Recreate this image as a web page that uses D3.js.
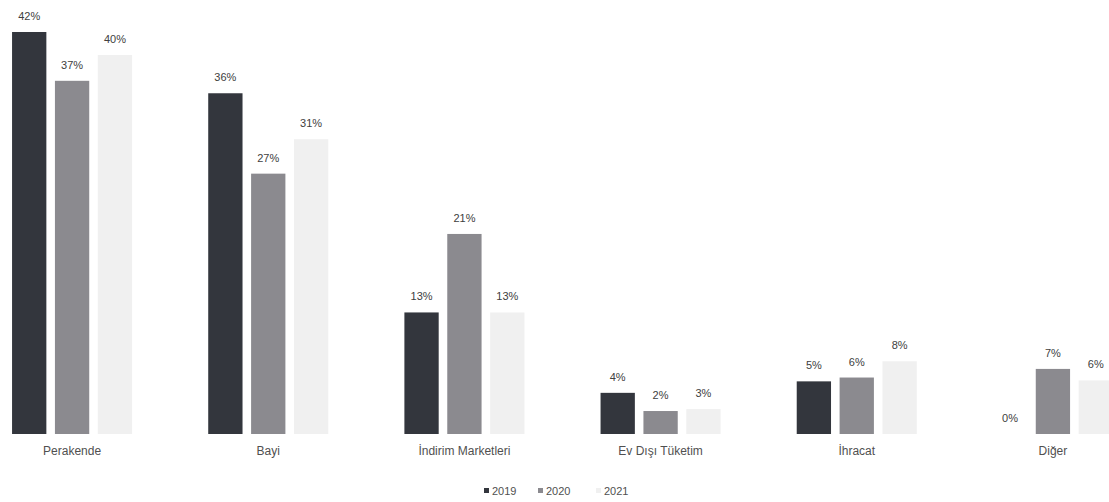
<!DOCTYPE html>
<html>
<head>
<meta charset="utf-8">
<script src="https://cdn.jsdelivr.net/npm/d3@7"></script>
<style>
  html, body { margin: 0; padding: 0; background: #fff; }
  svg { display: block; }
</style>
</head>
<body>
<svg id="chart" width="1109" height="502"></svg>
<script>
const categories = ["Perakende", "Bayi", "İndirim Marketleri", "Ev Dışı Tüketim", "İhracat", "Diğer"];
const seriesNames = ["2019", "2020", "2021"];
const values2019 = [42, 35.6, 12.7, 4.3, 5.5, 0];
const values2020 = [36.9, 27.2, 20.9, 2.4, 5.9, 6.8];
const values2021 = [39.6, 30.8, 12.7, 2.6, 7.6, 5.6];
const labels2019 = ["42%", "36%", "13%", "4%", "5%", "0%"];
const labels2020 = ["37%", "27%", "21%", "2%", "6%", "7%"];
const labels2021 = ["40%", "31%", "13%", "3%", "8%", "6%"];
const colors = ["#33363d", "#8b8a8f", "#f0f0f0"];

const svg = d3.select("#chart");

const seriesVals = [values2019, values2020, values2021];
const seriesLbls = [labels2019, labels2020, labels2021];

const x0 = d3.scaleBand().domain(categories).range([-26, 1151]).paddingInner(0.388).paddingOuter(0.194);
const x1 = d3.scaleBand().domain(seriesNames).range([0, x0.bandwidth()]).paddingInner(0.2).paddingOuter(0);
const y = d3.scaleLinear().domain([0, 42]).range([434, 32]);
const color = d3.scaleOrdinal().domain(seriesNames).range(colors);

const rows = categories.map((c, i) => ({
  cat: c,
  items: seriesNames.map((s, j) => ({ s, v: seriesVals[j][i], l: seriesLbls[j][i] }))
}));

const g = svg.append("g");
const groups = g.selectAll("g.grp").data(rows).join("g")
  .attr("class", "grp")
  .attr("transform", d => `translate(${x0(d.cat)},0)`);

groups.selectAll("rect").data(d => d.items).join("rect")
  .attr("x", d => x1(d.s))
  .attr("y", d => y(d.v))
  .attr("width", x1.bandwidth())
  .attr("height", d => y(0) - y(d.v))
  .attr("fill", d => color(d.s));

groups.selectAll("text.val").data(d => d.items).join("text")
  .attr("class", "val")
  .attr("x", d => x1(d.s) + x1.bandwidth() / 2)
  .attr("y", d => y(d.v) - 12)
  .attr("text-anchor", "middle")
  .attr("font-family", "Liberation Sans, Arial, sans-serif")
  .attr("font-size", 11)
  .attr("fill", "#404040")
  .text(d => d.l);

// category axis
const xAxis = d3.axisBottom(x0).tickSize(0).tickPadding(12);
const ax = svg.append("g").attr("transform", `translate(0,${y(0)})`).call(xAxis);
ax.select(".domain").remove();
ax.selectAll("text")
  .attr("font-family", "Liberation Sans, Arial, sans-serif")
  .attr("font-size", 12)
  .attr("fill", "#505050");

// legend
const legendX = [484, 538, 596];
const leg = svg.append("g").selectAll("g").data(seriesNames).join("g")
  .attr("transform", (d, i) => `translate(${legendX[i]},491)`);
leg.append("rect").attr("x", 0).attr("y", -3).attr("width", 5).attr("height", 5)
  .attr("fill", d => color(d));
leg.append("text").attr("x", 8).attr("y", 3.5)
  .attr("font-family", "Liberation Sans, Arial, sans-serif")
  .attr("font-size", 11)
  .attr("fill", "#505050")
  .text(d => d);
</script>
</body>
</html>
